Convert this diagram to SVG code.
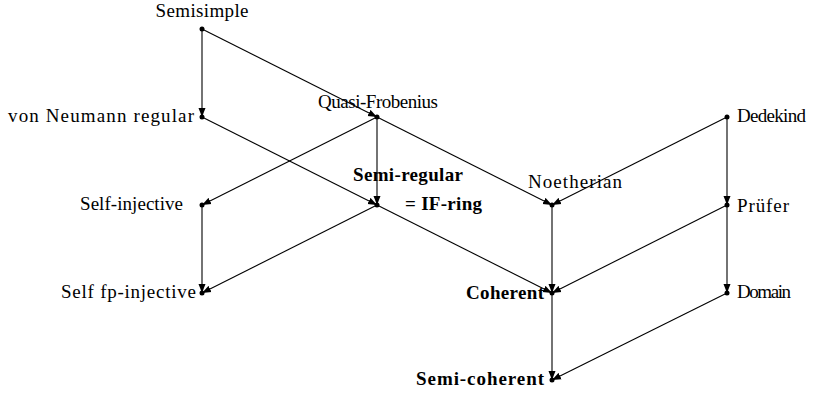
<svg xmlns="http://www.w3.org/2000/svg" width="819" height="396" viewBox="0 0 819 396">
<style>
text{font-family:"Liberation Serif","DejaVu Serif",serif;font-size:19px;fill:#000}
.b{font-weight:bold}
.e{stroke:#000;stroke-width:1.1;fill:none;marker-end:url(#ah)}
.d{fill:#000}
</style>
<defs>
<marker id="ah" markerUnits="userSpaceOnUse" markerWidth="10" markerHeight="8" refX="9" refY="4" orient="auto">
<path d="M0,0.5 L9,4 L0,7.5 z" fill="#000"/>
</marker>
</defs>
<rect width="819" height="396" fill="#fff"/>
<g id="connectors">
<line class="e" x1="202" y1="29" x2="202" y2="117"/>
<line class="e" x1="202" y1="29" x2="377" y2="117"/>
<line class="e" x1="202" y1="117" x2="377" y2="205"/>
<line class="e" x1="377" y1="117" x2="202" y2="205"/>
<line class="e" x1="377" y1="117" x2="377" y2="205"/>
<line class="e" x1="377" y1="117" x2="552" y2="205"/>
<line class="e" x1="727" y1="117" x2="552" y2="205"/>
<line class="e" x1="727" y1="117" x2="727" y2="205"/>
<line class="e" x1="202" y1="205" x2="202" y2="293"/>
<line class="e" x1="377" y1="205" x2="202" y2="293"/>
<line class="e" x1="377" y1="205" x2="552" y2="293"/>
<line class="e" x1="552" y1="205" x2="552" y2="293"/>
<line class="e" x1="727" y1="205" x2="552" y2="293"/>
<line class="e" x1="727" y1="205" x2="727" y2="293"/>
<line class="e" x1="552" y1="293" x2="552" y2="380"/>
<line class="e" x1="727" y1="293" x2="552" y2="380"/>
</g>
<g id="semisimple"><circle class="d" cx="202" cy="29" r="2.5"/><text x="202" y="17" text-anchor="middle" textLength="93">Semisimple</text></g>
<g id="vnr"><circle class="d" cx="202" cy="117" r="2.5"/><text x="194" y="122" text-anchor="end" textLength="186">von Neumann regular</text></g>
<g id="qf"><circle class="d" cx="377" cy="117" r="2.5"/><text x="378" y="108" text-anchor="middle" textLength="120">Quasi-Frobenius</text></g>
<g id="dedekind"><circle class="d" cx="727" cy="117" r="2.5"/><text x="737" y="122" textLength="69">Dedekind</text></g>
<g id="selfinj"><circle class="d" cx="202" cy="205" r="2.5"/><text x="183" y="210" text-anchor="end" textLength="103">Self-injective</text></g>
<g id="semireg"><circle class="d" cx="377" cy="205" r="2.5"/><text class="b" x="353" y="181" textLength="110">Semi-regular</text><text class="b" x="405" y="210" textLength="77">= IF-ring</text></g>
<g id="noetherian"><circle class="d" cx="552" cy="205" r="2.5"/><text x="575" y="188" text-anchor="middle" textLength="94">Noetherian</text></g>
<g id="prufer"><circle class="d" cx="727" cy="205" r="2.5"/><text x="737" y="212" textLength="52">Prüfer</text></g>
<g id="selffp"><circle class="d" cx="202" cy="293" r="2.5"/><text x="196" y="298" text-anchor="end" textLength="135">Self fp-injective</text></g>
<g id="coherent"><circle class="d" cx="552" cy="293" r="2.5"/><text class="b" x="544" y="299" text-anchor="end" textLength="78">Coherent</text></g>
<g id="domain"><circle class="d" cx="727" cy="293" r="2.5"/><text x="737" y="298" textLength="54">Domain</text></g>
<g id="semicoh"><circle class="d" cx="552" cy="380" r="2.5"/><text class="b" x="544" y="385" text-anchor="end" textLength="128">Semi-coherent</text></g>
</svg>
